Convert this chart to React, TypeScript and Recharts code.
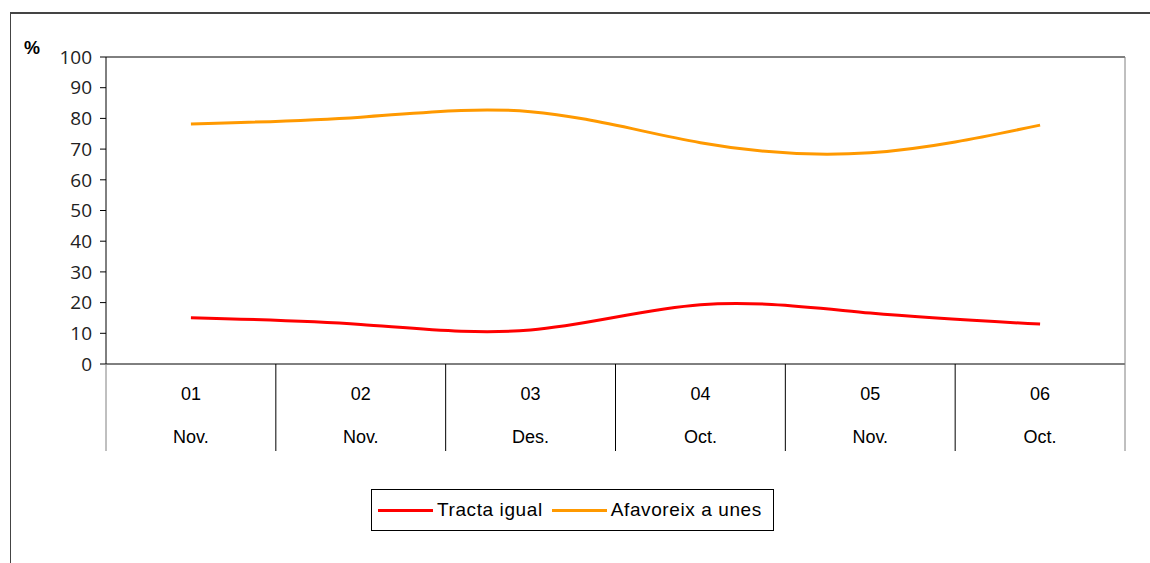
import React from "react";
import { LineChart, Line, XAxis, YAxis, Legend } from "recharts";

// valors llegits del gràfic original (%)
const years = ["01", "02", "03", "04", "05", "06"];
const months = ["Nov.", "Nov.", "Des.", "Oct.", "Nov.", "Oct."];
const tractaIgual = [15.1, 12.9, 11.1, 19.3, 16.6, 13.0];
const afavoreix = [78.2, 80.4, 82.2, 72.1, 68.8, 77.8];
const yTicks = [0, 10, 20, 30, 40, 50, 60, 70, 80, 90, 100];

const data = years.map((y, i) => ({
  cat: i,
  year: y,
  month: months[i],
  tracta: tractaIgual[i],
  afav: afavoreix[i],
}));

const W = 1150;
const H = 563;
const PLOT_L = 106;
const PLOT_R = 1125;
const PLOT_T = 57;
const PLOT_B = 364;
const BAND = (PLOT_R - PLOT_L) / years.length;
const FONT = "'Liberation Sans', Arial, sans-serif";

function CatTick(props: any) {
  const { x, payload, index } = props;
  const d = data[payload?.value] ?? data[index];
  const left = x - BAND / 2;
  const right = x + BAND / 2;
  return (
    <g>
      <line x1={left} y1={PLOT_B} x2={left} y2={451} stroke={index === 0 ? "#808080" : "#000"} />
      {index === years.length - 1 && (
        <line x1={right} y1={PLOT_B} x2={right} y2={451} stroke="#808080" />
      )}
      <text x={x} y={PLOT_B + 36} textAnchor="middle" fontSize={18} fill="#000" fontFamily={FONT}>
        {d.year}
      </text>
      <text x={x} y={PLOT_B + 79} textAnchor="middle" fontSize={18} fill="#000" fontFamily={FONT}>
        {d.month}
      </text>
    </g>
  );
}

function LegendBox() {
  const items = [
    { name: "Tracta igual", color: "#ff0000" },
    { name: "Afavoreix a unes", color: "#ff9900" },
  ];
  return (
    <div
      style={{
        border: "1px solid #000",
        width: 403,
        height: 42,
        boxSizing: "border-box",
        display: "flex",
        alignItems: "center",
        paddingLeft: 6,
        fontFamily: FONT,
        fontSize: 19,
        letterSpacing: 0.6,
        color: "#000",
      }}
    >
      {items.map((it) => (
        <div key={it.name} style={{ display: "flex", alignItems: "center", marginRight: 9 }}>
          <div style={{ width: 55, height: 3, background: it.color, marginRight: 4 }} />
          <span>{it.name}</span>
        </div>
      ))}
    </div>
  );
}

export default function App() {
  return (
    <div style={{ position: "absolute", left: 0, top: 0, width: W, height: H, background: "#fff", overflow: "hidden" }}>
      {/* marc exterior */}
      <div style={{ position: "absolute", left: 10, top: 12, width: 1200, height: 600, borderLeft: "1px solid #444", borderTop: "2px solid #444" }} />
      <div style={{ position: "absolute", left: 24, top: 38, fontFamily: FONT, fontWeight: "bold", fontSize: 18 }}>%</div>
      <div style={{ position: "absolute", left: 0, top: 0 }}>
        <LineChart
          width={W}
          height={H}
          data={data}
          margin={{ top: PLOT_T - 1, right: W - PLOT_R - 1, left: PLOT_L - 60, bottom: H - PLOT_B - 87 }}
        >
          <XAxis
            dataKey="cat"
            type="category"
            scale="band"
            height={87}
            stroke="#000"
            tickLine={false}
            interval={0}
            tick={<CatTick />}
          />
          <XAxis xAxisId="top" orientation="top" dataKey="cat" scale="band" height={1} tick={false} tickLine={false} stroke="#000" />
          <YAxis
            domain={[0, 100]}
            ticks={yTicks}
            width={60}
            stroke="#000"
            tickSize={6}
            tickMargin={8}
            interval={0}
            tick={{ fill: "#222", fontSize: 19, fontFamily: "'Open Sans', sans-serif" }}
          />
          <YAxis yAxisId="right" orientation="right" domain={[0, 100]} width={1} tick={false} tickLine={false} stroke="#808080" />
          <Line
            type="natural"
            dataKey="tracta"
            stroke="#ff0000"
            strokeWidth={3}
            dot={false}
            isAnimationActive={false}
          />
          <Line
            type="natural"
            dataKey="afav"
            stroke="#ff9900"
            strokeWidth={3}
            dot={false}
            isAnimationActive={false}
          />
          <Legend
            content={<LegendBox />}
            layout="horizontal"
            verticalAlign="middle"
            align="center"
            wrapperStyle={{ position: "absolute", left: 371, top: 489, width: 403 }}
          />
        </LineChart>
      </div>
    </div>
  );
}
